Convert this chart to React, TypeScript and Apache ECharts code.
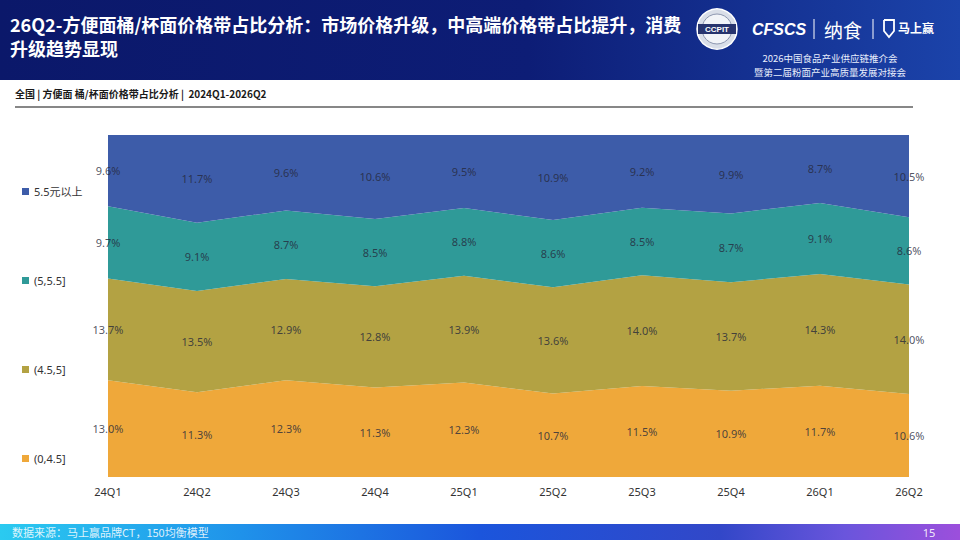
import React, { useEffect, useRef } from 'react';
import * as echarts from 'echarts';

const quarters = ['24Q1', '24Q2', '24Q3', '24Q4', '25Q1', '25Q2', '25Q3', '25Q4', '26Q1', '26Q2'];
const bandNames = ['(0,4.5]', '(4.5,5]', '(5,5.5]', '5.5元以上'];

// raw shares (%)
const band0to45 = [13.0, 11.3, 12.3, 11.3, 12.3, 10.7, 11.5, 10.9, 11.7, 10.6];
const band45to5 = [13.7, 13.5, 12.9, 12.8, 13.9, 13.6, 14.0, 13.7, 14.3, 14.0];
const band5to55 = [9.7, 9.1, 8.7, 8.5, 8.8, 8.6, 8.5, 8.7, 9.1, 8.6];
const band55up = [9.6, 11.7, 9.6, 10.6, 9.5, 10.9, 9.2, 9.9, 8.7, 10.5];

const bandValues = [band0to45, band45to5, band5to55, band55up];
const bandColors = ['#efa83a', '#b3a243', '#2f9a98', '#3d5ca9'];

const FONT = '"Noto Sans", "Noto Sans CJK SC", sans-serif';
const CJK = '"Noto Sans CJK SC", "Noto Sans", sans-serif';

const App: React.FC = () => {
  const chartRef = useRef<HTMLDivElement>(null);

  useEffect(() => {
    if (!chartRef.current) return;
    const chart = echarts.init(chartRef.current, undefined, { renderer: 'svg' });

    // the chart is drawn as 100% stacked: normalise each quarter
    const totals = quarters.map((_, i) => bandValues.reduce((s, arr) => s + arr[i], 0));
    const shares = bandValues.map(arr => arr.map((v, i) => (v / totals[i]) * 100));

    const areaSeries = bandNames.map((name, k) => ({
      name,
      type: 'line',
      stack: 'total',
      data: shares[k],
      symbol: 'none',
      lineStyle: { width: 0 },
      areaStyle: { color: bandColors[k], opacity: 1 },
      itemStyle: { color: bandColors[k] },
      color: bandColors[k],
      z: 2,
    }));

    // labels sit in the middle of each band
    const labelSeries = bandNames.map((name, k) => ({
      name: name + '-label',
      type: 'scatter',
      symbolSize: 0,
      silent: true,
      clip: false,
      z: 5,
      itemStyle: { color: 'transparent' },
      data: quarters.map((_, i) => {
        let below = 0;
        for (let j = 0; j < k; j++) below += shares[j][i];
        return below + shares[k][i] / 2;
      }),
      label: {
        show: true,
        position: [0, 0],
        align: 'center',
        verticalAlign: 'middle',
        color: '#25283a',
        textBorderWidth: 0,
        fontSize: 11,
        fontFamily: FONT,
        formatter: (p: any) => bandValues[k][p.dataIndex].toFixed(1) + '%',
      },
    }));

    const legendCenters = [460, 371, 282, 193];
    const legends = bandNames.map((name, k) => ({
      data: [name],
      left: 22,
      top: legendCenters[k] - 7,
      padding: 0,
      icon: 'rect',
      itemWidth: 7,
      itemHeight: 7,
      selectedMode: false,
      textStyle: { fontSize: 11, color: '#333', fontFamily: FONT },
    }));

    const option: any = {
      animation: false,
      backgroundColor: '#fff',
      grid: { left: 108, right: 51, top: 135, bottom: 63 },
      legend: legends,
      xAxis: {
        type: 'category',
        data: quarters,
        boundaryGap: false,
        axisLine: { show: false },
        axisTick: { show: false },
        axisLabel: { color: '#333', fontSize: 11, fontFamily: FONT, margin: 9 },
      },
      yAxis: {
        type: 'value',
        min: 0,
        max: 100,
        show: false,
      },
      series: [...areaSeries, ...labelSeries],
      graphic: [
        // header band
        {
          type: 'rect',
          shape: { x: 0, y: 0, width: 960, height: 80 },
          style: {
            fill: {
              type: 'linear', x: 0, y: 0, x2: 1, y2: 0,
              colorStops: [
                { offset: 0, color: '#0b186a' },
                { offset: 0.55, color: '#0d1d76' },
                { offset: 1, color: '#1b43aa' },
              ],
            },
          },
        },
        {
          type: 'text', x: 10, y: 24,
          style: {
            text: '26Q2-方便面桶/杯面价格带占比分析：市场价格升级，中高端价格带占比提升，消费',
            fill: '#fff', fontSize: 18, fontWeight: 'bold', fontFamily: CJK,
            textVerticalAlign: 'middle',
          },
        },
        {
          type: 'text', x: 10, y: 48,
          style: {
            text: '升级趋势显现',
            fill: '#fff', fontSize: 18, fontWeight: 'bold', fontFamily: CJK,
            textVerticalAlign: 'middle',
          },
        },
        // CCPIT badge
        { type: 'circle', shape: { cx: 717, cy: 29, r: 20 }, style: { fill: '#d9dee8', stroke: '#ffffff', lineWidth: 1.5 } },
        { type: 'circle', shape: { cx: 717, cy: 29, r: 15 }, style: { fill: '#f2f4f8', stroke: '#8d97b0', lineWidth: 1 } },
        { type: 'rect', shape: { x: 698, y: 24, width: 38, height: 10 }, style: { fill: '#27346e' } },
        {
          type: 'text', x: 717, y: 29,
          style: { text: 'CCPIT', fill: '#fff', fontSize: 8, fontWeight: 'bold', fontFamily: 'Liberation Sans', textAlign: 'center', textVerticalAlign: 'middle' },
        },
        {
          type: 'text', x: 779, y: 29,
          style: { text: 'CFSCS', fill: '#fff', fontSize: 16, fontWeight: 'bold', fontStyle: 'italic', fontFamily: 'Liberation Sans', textAlign: 'center', textVerticalAlign: 'middle' },
        },
        { type: 'line', shape: { x1: 814, y1: 19, x2: 814, y2: 39 }, style: { stroke: '#fff', lineWidth: 1 } },
        {
          type: 'text', x: 843, y: 29,
          style: { text: '纳食', fill: '#fff', fontSize: 19, fontFamily: CJK, textAlign: 'center', textVerticalAlign: 'middle' },
        },
        { type: 'line', shape: { x1: 873, y1: 19, x2: 873, y2: 39 }, style: { stroke: '#fff', lineWidth: 1 } },
        {
          type: 'polyline',
          shape: { points: [[884, 20], [894, 20], [894, 31], [889, 37], [884, 31], [884, 20]] },
          style: { stroke: '#fff', lineWidth: 1.8, fill: 'none' },
        },
        {
          type: 'text', x: 916, y: 27,
          style: { text: '马上赢', fill: '#fff', fontSize: 12, fontWeight: 'bold', fontFamily: CJK, textAlign: 'center', textVerticalAlign: 'middle' },
        },
        {
          type: 'text', x: 830, y: 58,
          style: { text: '2026中国食品产业供应链推介会', fill: '#e8eefc', fontSize: 9.5, fontFamily: CJK, textAlign: 'center', textVerticalAlign: 'middle' },
        },
        {
          type: 'text', x: 830, y: 72,
          style: { text: '暨第二届粉面产业高质量发展对接会', fill: '#e8eefc', fontSize: 9.5, fontFamily: CJK, textAlign: 'center', textVerticalAlign: 'middle' },
        },
        // sub heading
        {
          type: 'text', x: 15, y: 93,
          style: {
            text: '全国 | 方便面 桶/杯面价格带占比分析 |  2024Q1-2026Q2',
            fill: '#1a1a1a', fontSize: 10, fontWeight: 'bold', fontFamily: CJK,
            textVerticalAlign: 'middle',
          },
        },
        { type: 'line', shape: { x1: 15, y1: 107, x2: 913, y2: 107 }, style: { stroke: '#111', lineWidth: 1.2 } },
        // footer band
        {
          type: 'rect',
          shape: { x: 0, y: 524, width: 960, height: 16 },
          style: {
            fill: {
              type: 'linear', x: 0, y: 0, x2: 1, y2: 0,
              colorStops: [
                { offset: 0, color: '#2bcaf0' },
                { offset: 0.25, color: '#1f92ea' },
                { offset: 0.5, color: '#1b55dc' },
                { offset: 0.75, color: '#3247c8' },
                { offset: 0.88, color: '#6a55dc' },
                { offset: 1, color: '#9c4fdc' },
              ],
            },
          },
        },
        {
          type: 'text', x: 12, y: 532,
          style: { text: '数据来源：马上赢品牌CT，150均衡模型', fill: 'rgba(255,255,255,0.85)', fontSize: 11, fontFamily: CJK, textVerticalAlign: 'middle' },
        },
        {
          type: 'text', x: 929, y: 532,
          style: { text: '15', fill: 'rgba(255,255,255,0.9)', fontSize: 11, fontFamily: FONT, textAlign: 'center', textVerticalAlign: 'middle' },
        },
      ],
    };

    chart.setOption(option);

    return () => {
      chart.dispose();
    };
  }, []);

  return (
    <div
      ref={chartRef}
      style={{ position: 'absolute', left: 0, top: 0, width: 960, height: 540 }}
    />
  );
};

export default App;
